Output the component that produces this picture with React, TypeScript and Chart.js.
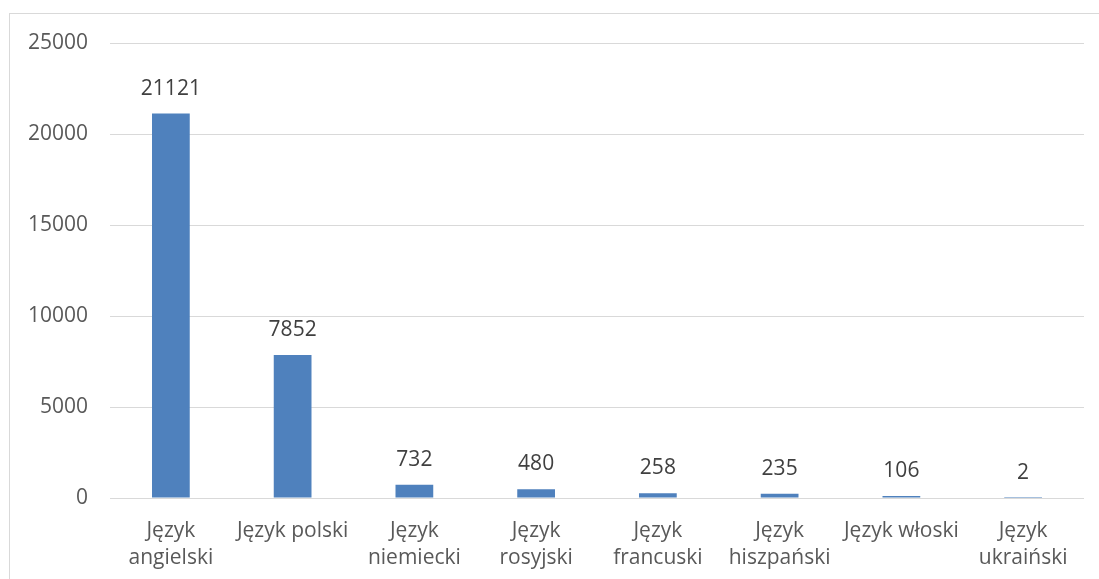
import React, { useEffect, useRef } from "react";
import { Chart, registerables } from "chart.js";

Chart.register(...registerables);

const categories: (string | string[])[] = [
  ["Język", "angielski"],
  "Język polski",
  ["Język", "niemiecki"],
  ["Język", "rosyjski"],
  ["Język", "francuski"],
  ["Język", "hiszpański"],
  "Język włoski",
  ["Język", "ukraiński"],
];
const values: number[] = [21121, 7852, 732, 480, 258, 235, 106, 2];
const yTicks: number[] = [0, 5000, 10000, 15000, 20000, 25000];

const FONT = "'Open Sans', sans-serif";
const TEXT = "#595959";
const SIZE = 21;

const dataLabels = {
  id: "dataLabels",
  afterDatasetsDraw(chart: any) {
    const ctx = chart.ctx;
    const meta = chart.getDatasetMeta(0);
    ctx.save();
    ctx.font = `${SIZE}px ${FONT}`;
    ctx.fillStyle = "#404040";
    ctx.textAlign = "center";
    ctx.textBaseline = "middle";
    meta.data.forEach((bar: any, i: number) => {
      ctx.fillText(String(values[i]), bar.x, bar.y - 25);
    });
    ctx.restore();
  },
};

export default function App() {
  const ref = useRef<HTMLCanvasElement>(null);
  useEffect(() => {
    const chart = new Chart(ref.current!, {
      type: "bar",
      data: {
        labels: categories,
        datasets: [
          {
            data: values,
            backgroundColor: "#4F81BD",
            barPercentage: 1,
            categoryPercentage: 0.31,
          },
        ],
      },
      options: {
        animation: false,
        responsive: false,
        maintainAspectRatio: false,
        layout: { padding: { top: 43, right: 15, left: 0, bottom: 0 } },
        plugins: { legend: { display: false }, tooltip: { enabled: false } },
        scales: {
          x: {
            grid: { display: false, drawTicks: false },
            border: { display: false },
            ticks: {
              color: TEXT,
              font: { family: FONT, size: SIZE, lineHeight: 1.29 },
              padding: 19,
              maxRotation: 0,
              autoSkip: false,
            },
            afterFit: (s: any) => {
              s.height = 81;
            },
          },
          y: {
            min: 0,
            max: 25000,
            afterBuildTicks: (s: any) => {
              s.ticks = yTicks.map((v) => ({ value: v }));
            },
            grid: { color: "#d9d9d9", lineWidth: 1, drawTicks: false },
            border: { display: false },
            ticks: {
              color: TEXT,
              font: { family: FONT, size: SIZE },
              padding: 22,
              callback: (v: any) => String(v),
            },
            afterFit: (s: any) => {
              s.width = 110;
            },
          },
        },
      },
      plugins: [dataLabels],
    });
    return () => chart.destroy();
  }, []);
  return (
    <div style={{ position: "fixed", left: 0, top: 0, width: 1099, height: 579, background: "#fff", overflow: "hidden" }}>
      <div
        style={{
          position: "absolute",
          left: 9,
          top: 13,
          width: 1200,
          height: 700,
          border: "1px solid #d9d9d9",
        }}
      />
      <canvas ref={ref} width={1099} height={579} style={{ position: "absolute", left: 0, top: 0 }} />
    </div>
  );
}
